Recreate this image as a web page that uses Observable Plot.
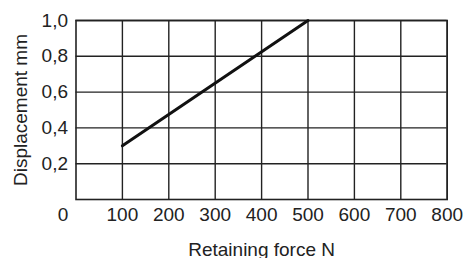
<!DOCTYPE html>
<html>
<head>
<meta charset="utf-8">
<script src="https://cdn.jsdelivr.net/npm/d3@7"></script>
<script src="https://cdn.jsdelivr.net/npm/@observablehq/plot@0.6"></script>
<style>
  html, body { margin: 0; padding: 0; background: #fff; }
  #chart svg { display: block; }
</style>
</head>
<body>
<div id="chart"></div>
<script>
// Data
const forceN = [100, 500];
const displacementMm = [0.3, 1.0];
const xTicks = [100, 200, 300, 400, 500, 600, 700, 800];
const yTicks = [0.2, 0.4, 0.6, 0.8, 1.0];
const originLabel = [0];
const xLabel = "Retaining force N";
const yLabel = "Displacement mm";

const lineData = forceN.map((f, i) => ({force: f, disp: displacementMm[i]}));
const ink = "#222";
const fmtY = d => d.toFixed(1).replace(".", ",");

const chart = Plot.plot({
  width: 464,
  height: 258,
  marginLeft: 75.5,
  marginRight: 17.3,
  marginTop: 20,
  marginBottom: 59,
  style: {fontFamily: "'Liberation Sans', Arial, sans-serif", fontSize: "19px", color: ink, background: "#fff"},
  x: {domain: [0, 800]},
  y: {domain: [0, 1.0]},
  marks: [
    Plot.gridX(xTicks, {stroke: ink, strokeOpacity: 1, strokeWidth: 1.4}),
    Plot.gridY(yTicks, {stroke: ink, strokeOpacity: 1, strokeWidth: 1.4}),
    Plot.frame({stroke: ink, strokeWidth: 1.6}),
    Plot.axisX(xTicks, {tickSize: 0, tickPadding: 8, label: null, fill: ink}),
    Plot.axisY(yTicks, {tickSize: 0, tickPadding: 8, label: null, tickFormat: fmtY, fill: ink}),
    Plot.text(originLabel, {x: d => d, frameAnchor: "bottom", lineAnchor: "top", dy: 8, dx: -13, text: d => String(d), fill: ink}),
    Plot.text([xLabel], {frameAnchor: "bottom", lineAnchor: "bottom", dy: 56, text: d => d, fill: ink}),
    Plot.text([yLabel], {frameAnchor: "left", rotate: -90, textAnchor: "middle", lineAnchor: "bottom", dx: -49, text: d => d, fill: ink}),
    Plot.line(lineData, {x: "force", y: "disp", stroke: "#111", strokeWidth: 3})
  ]
});
document.getElementById("chart").append(chart);
</script>
</body>
</html>
